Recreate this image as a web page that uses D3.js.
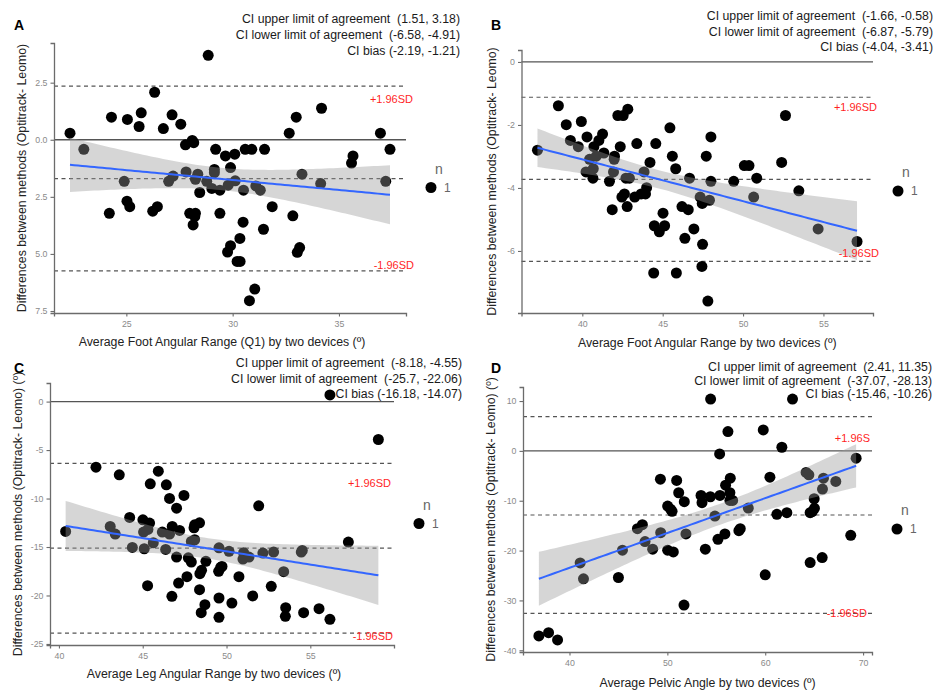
<!DOCTYPE html>
<head>
  <meta charset="utf-8">
  <script src="https://d3js.org/d3.v7.min.js"></script>
  <style>
    body { margin:0; background:#fff; }
    text { font-family: "Liberation Sans", Arial, sans-serif; }
  </style>
</head>

<body>
  <script>
// A: foot angular range (Q1)
const aMean = [22.35,23.0,24.3,24.2,25.05,24.9,25.03,25.16,25.7,25.6,26.33,26.24,26.46,26.74,27.15,27.56,26.99,27.2,27.78,28.1,28.17,27.81,28.25,28.36,28.45,27.98,28.25,28.14,28.22,28.85,28.78,29.02,29.14,29.14,29.2,29.4,29.4,29.66,29.9,29.79,30.1,30.12,30.59,30.9,30.51,30.49,30.34,29.9,29.76,30.21,30.35,30.79,31.04,31.09,31.3,31.5,31.45,31.86,32.66,32.99,32.83,33.26,33.15,33.04,34.18,34.14,35.66,35.59,36.95,37.4,37.2];
const aDiff = [0.29,-0.42,0.99,-3.22,0.89,-1.82,-2.69,-2.93,1.18,0.58,2.08,-3.13,-2.93,0.49,1.09,0.68,-1.82,-1.59,-0.22,-0.03,-0.13,-1.41,-1.73,-1.51,-2.31,-3.22,-3.22,-3.73,-3.36,3.70,-1.82,-2.13,-1.44,-1.30,-0.42,-2.21,-3.22,-0.71,-1.22,-1.99,-0.63,-1.80,-0.42,-0.42,-2.21,-3.61,-4.32,-4.64,-4.92,-5.33,-5.33,-7.05,-6.54,-2.02,-2.21,-0.42,-3.92,-2.93,0.29,0.99,-3.33,-1.51,-4.72,-4.93,1.38,-1.92,-0.71,-1.02,0.29,-0.42,-1.82];
const aLimits = [2.345, -1.70, -5.745];   // upper, bias, lower
const aCI = ["CI upper limit of agreement  (1.51, 3.18)", "CI lower limit of agreement  (-6.58, -4.91)", "CI bias (-2.19, -1.21)"];
const aXTicks = [25, 30, 35];
const aYTicks = [-7.5, -5, -2.5, 0, 2.5];

// B: foot angular range
const bMean = [37.21,38.51,39.0,39.26,39.75,39.94,40.29,40.23,40.45,40.68,40.66,40.72,40.87,41.03,41.26,41.34,41.69,41.86,41.94,41.98,42.0,42.21,42.54,42.36,42.83,42.46,42.62,42.79,42.71,42.93,43.26,43.39,43.66,43.84,43.93,44.0,44.21,44.48,44.79,44.57,45.02,45.12,44.44,45.45,45.6,45.81,45.85,46.2,46.38,46.59,46.67,46.94,47.33,47.46,47.48,47.44,47.71,47.81,47.91,48.0,48.0,49.42,50.08,50.37,50.66,50.85,52.4,52.64,53.47,54.67,57.09];
const bDiff = [-2.80,-1.39,-1.99,-2.49,-2.69,-1.89,-2.38,-3.49,-3.09,-3.39,-3.69,-2.69,-2.99,-2.49,-2.29,-2.89,-3.79,-4.69,-3.49,-3.09,-2.99,-1.70,-1.70,-2.69,-1.50,-4.29,-4.19,-4.59,-3.69,-3.69,-4.29,-2.59,-4.19,-3.49,-4.19,-3.99,-3.19,-5.20,-5.39,-2.59,-4.80,-5.20,-6.70,-2.09,-2.99,-3.39,-6.70,-4.59,-5.60,-4.69,-3.69,-5.30,-4.29,-4.49,-5.79,-6.49,-2.99,-7.59,-4.39,-2.38,-3.79,-3.79,-3.29,-3.29,-4.29,-3.69,-3.19,-1.70,-4.09,-5.30,-5.70];
const bLimits = [-1.12, -3.725, -6.33];
const bCI = ["CI upper limit of agreement  (-1.66, -0.58)", "CI lower limit of agreement  (-6.87, -5.79)", "CI bias (-4.04, -3.41)"];
const bXTicks = [40, 45, 50, 55];
const bYTicks = [-6, -4, -2, 0];

// C: leg angular range
const cMean = [40.4,42.21,43.06,43.36,43.6,44.22,44.38,45.01,45.05,45.09,45.31,45.41,45.45,45.63,45.29,45.93,46.17,46.37,46.41,46.6,46.6,46.76,46.74,47.02,47.02,47.14,47.2,47.46,47.64,47.72,47.9,47.9,48.1,48.06,48.1,48.39,48.39,48.41,48.51,48.49,48.71,48.77,49.55,49.53,49.65,49.73,49.55,49.55,50.15,50.32,50.74,50.98,51.02,51.34,51.56,51.92,52.17,52.67,52.81,53.41,53.53,53.51,54.46,54.52,54.6,55.52,56.17,56.17,57.27,59.06];
const cDiff = [-13.39,-6.77,-12.88,-13.67,-7.55,-11.95,-15.04,-12.19,-13.46,-15.18,-13.19,-12.53,-8.48,-14.56,-18.99,-7.18,-13.46,-15.25,-8.59,-9.99,-13.67,-12.88,-20.09,-10.99,-16.04,-18.72,-13.29,-9.68,-18.06,-16.11,-16.55,-14.42,-14.25,-13.02,-12.71,-12.5,-19.4,-17.75,-17.41,-21.77,-20.95,-16.48,-15.08,-17.51,-17.1,-17.0,-20.26,-22.25,-15.45,-20.78,-18.06,-16.24,-15.59,-16.04,-20.05,-10.75,-15.63,-19.06,-15.52,-17.55,-21.26,-22.15,-15.52,-15.35,-21.77,-21.36,-22.46,0.69,-14.49,-3.91];
const cLimits = [-6.365, -15.125, -23.88];
const cCI = ["CI upper limit of agreement  (-8.18, -4.55)", "CI lower limit of agreement  (-25.7, -22.06)", "CI bias (-16.18, -14.07)"];
const cXTicks = [40, 45, 50, 55];
const cYTicks = [-25, -20, -15, -10, -5, 0];

// D: pelvic angle
const dMean = [36.87,37.86,38.78,41.09,41.43,45.0,45.41,46.94,47.45,47.72,48.5,49.32,49.29,50.03,50.03,50.34,50.48,50.61,50.95,51.16,51.73,51.9,51.7,53.44,53.54,54.39,54.42,53.88,54.86,55.17,55.34,55.37,55.88,55.95,56.19,56.43,56.39,56.39,56.67,57.31,57.45,58.27,59.8,60.0,60.48,61.19,61.7,62.21,62.79,64.18,64.46,64.59,64.59,64.8,65.0,65.03,65.82,65.85,65.95,67.21,68.74,69.29];
const dDiff = [-37.13,-36.47,-37.93,-22.47,-25.67,-25.4,-19.93,-15.6,-14.8,-18.2,-19.73,-16.4,-5.67,-11.07,-19.93,-11.73,-12.13,-20.27,-5.93,-8.4,-10.2,-16.67,-30.93,-8.93,-10.4,-9.2,10.4,-19.73,-13.07,-17.73,-0.6,-8.93,-16.67,-6.87,3.87,-5.47,-8.4,-9.93,-9.93,-16.0,-15.6,-11.47,4.2,-24.87,-5.27,-12.73,0.73,-12.4,10.4,-4.33,-4.8,-12.4,-22.4,-12.2,-9.6,-11.53,-21.4,-7.67,-5.47,-6.13,-16.93,-1.47];
const dLimits = [6.88, -12.86, -32.6];
const dCI = ["CI upper limit of agreement  (2.41, 11.35)", "CI lower limit of agreement  (-37.07, -28.13)", "CI bias (-15.46, -10.26)"];
const dXTicks = [40, 50, 60, 70];
const dYTicks = [-40, -30, -20, -10, 0, 10];

const yTitle = "Differences between methods (Optitrack- Leomo)";
const hyphen = d => String(d);

const panels = [
  { letter: "A", mean: aMean, diff: aDiff, lim: aLimits, ci: aCI, xt: aXTicks, yt: aYTicks,
    yFmt: d => Math.abs(d).toFixed(1),
    xTitle: "Average Foot Angular Range (Q1) by two devices (º)", yTitle: yTitle,
    sdText: ["+1.96SD", "-1.96SD"], sdY: [1.79, -5.5], sdDx: [7, 8],
    box: { l: 54, r: 406, t: 43, b: 313 }, letterPos: [14, 30],
    ciRight: 460, ciTop: 19, ciGap: 15.8, yTitleX: 22, xTitleY: 342 },
  { letter: "B", mean: bMean, diff: bDiff, lim: bLimits, ci: bCI, xt: bXTicks, yt: bYTicks,
    yFmt: hyphen,
    xTitle: "Average Foot Angular Range by two devices (º)", yTitle: yTitle,
    sdText: ["+1.96SD", "-1.96SD"], sdY: [-1.42, -6.08], sdDx: [4, 6],
    box: { l: 521.5, r: 873, t: 50, b: 313 }, letterPos: [491, 30],
    ciRight: 933, ciTop: 16, ciGap: 15.5, yTitleX: 492, xTitleY: 343 },
  { letter: "C", mean: cMean, diff: cDiff, lim: cLimits, ci: cCI, xt: cXTicks, yt: cYTicks,
    yFmt: hyphen,
    xTitle: "Average Leg Angular Range by two devices (º)", yTitle: yTitle + " (º)",
    sdText: ["+1.96SD", "-1.96SD"], sdY: [-8.37, -24.2], sdDx: [-3, -1],
    box: { l: 50, r: 394, t: 383, b: 645 }, letterPos: [14, 373],
    ciRight: 462, ciTop: 363, ciGap: 15.5, yTitleX: 18, xTitleY: 674 },
  { letter: "D", mean: dMean, diff: dDiff, lim: dLimits, ci: dCI, xt: dXTicks, yt: dYTicks,
    yFmt: hyphen,
    xTitle: "Average Pelvic Angle by two devices (º)", yTitle: yTitle + " (º)",
    sdText: ["+1.96S", "-1.96SD"], sdY: [2.6, -32.6], sdDx: [-2, -5],
    box: { l: 523, r: 872, t: 387, b: 652 }, letterPos: [491, 373],
    ciRight: 932, ciTop: 367, ciGap: 13.2, yTitleX: 491, xTitleY: 683 }
];

// linear fit + 95% confidence band, like geom_smooth(method = "lm")
function lmBand(xs, ys) {
  const n = xs.length, mx = d3.mean(xs), my = d3.mean(ys);
  let sxx = 0, sxy = 0;
  xs.forEach((x, i) => { sxx += (x - mx) ** 2; sxy += (x - mx) * (ys[i] - my); });
  const b = sxy / sxx, a = my - b * mx;
  const s = Math.sqrt(d3.sum(xs, (x, i) => (ys[i] - a - b * x) ** 2) / (n - 2));
  const z = 1.96, t = z + (z ** 3 + z) / (4 * (n - 2));
  const ext = d3.extent(xs);
  return d3.range(80).map(k => {
    const x = ext[0] + (ext[1] - ext[0]) * k / 79;
    const fit = a + b * x;
    const se = s * Math.sqrt(1 / n + (x - mx) ** 2 / sxx);
    return { x: x, fit: fit, lo: fit - t * se, hi: fit + t * se };
  });
}

// ggplot style 5% expansion
function expand(ext) {
  const d = (ext[1] - ext[0]) * 0.05;
  return [ext[0] - d, ext[1] + d];
}

const svg = d3.select('body').append('svg')
    .attr('width', 934)
    .attr('height', 690)
    .style('background', '#fff');

panels.forEach(function (p) {
  const g = svg.append('g');
  const x = d3.scaleLinear()
      .domain(expand(d3.extent(p.mean)))
      .range([p.box.l, p.box.r]);
  const y = d3.scaleLinear()
      .domain(expand(d3.extent(p.diff.concat(p.lim, [0]))))
      .range([p.box.b, p.box.t]);

  // zero line
  g.append('line')
      .attr('x1', p.box.l).attr('x2', p.box.r)
      .attr('y1', y(0)).attr('y2', y(0))
      .attr('stroke', '#555').attr('stroke-width', 1.3);

  // limits of agreement + bias
  g.selectAll('line.lim')
      .data(p.lim)
      .enter().append('line')
      .attr('class', 'lim')
      .attr('x1', p.box.l).attr('x2', p.box.r)
      .attr('y1', d => y(d)).attr('y2', d => y(d))
      .attr('stroke', '#555').attr('stroke-width', 1.2)
      .attr('stroke-dasharray', '4,3.5');

  // points
  g.selectAll('circle.pt')
      .data(p.mean)
      .enter().append('circle')
      .attr('class', 'pt')
      .attr('cx', d => x(d))
      .attr('cy', (d, i) => y(p.diff[i]))
      .attr('r', 5.5)
      .attr('fill', '#000');

  // smoother
  const band = lmBand(p.mean, p.diff);
  g.append('path')
      .attr('d', d3.area().x(d => x(d.x)).y0(d => y(d.lo)).y1(d => y(d.hi))(band))
      .attr('fill', '#999')
      .attr('fill-opacity', 0.4);
  g.append('path')
      .attr('d', d3.line().x(d => x(d.x)).y(d => y(d.fit))(band))
      .attr('fill', 'none')
      .attr('stroke', '#3366FF')
      .attr('stroke-width', 2);

  // axes
  const xAxis = g.append('g')
      .attr('transform', 'translate(0,' + p.box.b + ')')
      .call(d3.axisBottom(x).tickValues(p.xt).tickFormat(hyphen).tickSizeOuter(0).tickSize(3.5).tickPadding(4));
  const yAxis = g.append('g')
      .attr('transform', 'translate(' + p.box.l + ',0)')
      .call(d3.axisLeft(y).tickValues(p.yt).tickFormat(p.yFmt).tickSizeOuter(0).tickSize(3.5).tickPadding(3));
  [xAxis, yAxis].forEach(ax => {
    ax.select('.domain').attr('stroke', '#6b6b6b').attr('stroke-width', 1.3);
    ax.selectAll('.tick line').attr('stroke', '#6b6b6b').attr('stroke-width', 1.1);
    ax.selectAll('.tick text').attr('fill', '#8a8a8a').style('font-size', '8.8px')
        .style('font-family', '"Liberation Sans", Arial, sans-serif');
  });

  // SD labels
  g.selectAll('text.sd')
      .data(p.sdText)
      .enter().append('text')
      .attr('class', 'sd')
      .attr('x', (d, i) => p.box.r + p.sdDx[i])
      .attr('y', (d, i) => y(p.sdY[i]))
      .attr('dy', '0.35em')
      .attr('text-anchor', 'end')
      .attr('fill', '#ff1f1f')
      .style('font-size', '11px')
      .text(d => d);

  // titles
  g.append('text')
      .attr('x', (p.box.l + p.box.r) / 2 + (p.letter === 'B' || p.letter === 'D' ? 10 : -8))
      .attr('y', p.xTitleY)
      .attr('dy', '0.35em')
      .attr('text-anchor', 'middle')
      .attr('fill', '#222')
      .style('font-size', '12.3px')
      .text(p.xTitle);
  g.append('text')
      .attr('transform', 'translate(' + p.yTitleX + ',' + ((p.box.t + p.box.b) / 2) + ') rotate(-90)')
      .attr('dy', '0.35em')
      .attr('text-anchor', 'middle')
      .attr('fill', '#222')
      .style('font-size', '12.3px')
      .text(p.yTitle);

  // CI annotation
  g.selectAll('text.ci')
      .data(p.ci)
      .enter().append('text')
      .attr('class', 'ci')
      .attr('x', p.ciRight)
      .attr('y', (d, i) => p.ciTop + i * p.ciGap)
      .attr('dy', '0.35em')
      .attr('text-anchor', 'end')
      .attr('fill', '#1a1a1a')
      .style('font-size', '12.3px')
      .style('white-space', 'pre')
      .text(d => d);

  // panel letter
  g.append('text')
      .attr('x', p.letterPos[0]).attr('y', p.letterPos[1])
      .style('font-size', '14px').style('font-weight', 'bold')
      .attr('fill', '#000')
      .text(p.letter);

  // size legend
  const mid = (p.box.t + p.box.b) / 2;
  g.append('text')
      .attr('x', p.box.r + 33).attr('y', mid - 9).attr('dy', '0.35em')
      .attr('text-anchor', 'middle')
      .attr('fill', '#666').style('font-size', '14px')
      .text('n');
  g.append('circle')
      .attr('cx', p.box.r + 25).attr('cy', mid + 9.5).attr('r', 5.5)
      .attr('fill', '#000');
  g.append('text')
      .attr('x', p.box.r + 38).attr('y', mid + 9.5).attr('dy', '0.35em')
      .attr('fill', '#666').style('font-size', '12px')
      .text('1');
});
  </script>
</body>
